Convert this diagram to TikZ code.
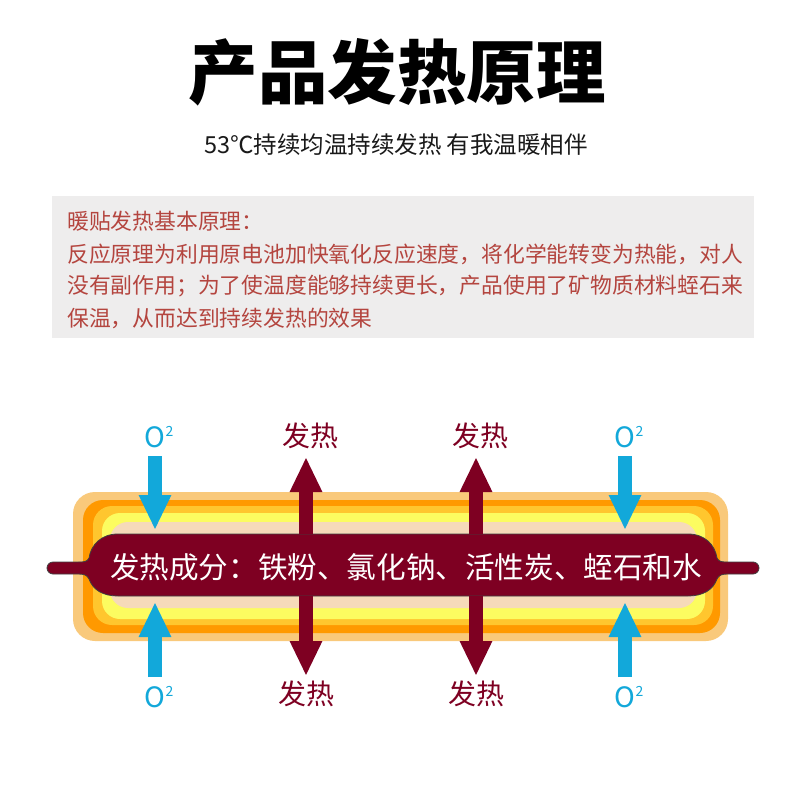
\documentclass[tikz,border=0pt]{standalone}
\usepackage{fontspec}
\setmainfont{Noto Sans CJK SC}
\usetikzlibrary{arrows.meta}
\definecolor{bandA}{HTML}{F9C97B}
\definecolor{bandB}{HTML}{FF9900}
\definecolor{bandC}{HTML}{FFC62E}
\definecolor{bandD}{HTML}{FCFC60}
\definecolor{bandE}{HTML}{F6DAB9}
\definecolor{maroon}{HTML}{7E0022}
\definecolor{oxblue}{HTML}{12A8DA}
\definecolor{greybox}{HTML}{EEEDED}
\definecolor{boxtext}{HTML}{B4453F}
\newcommand{\oxtwo}{O\raisebox{0.42em}{\fontsize{14}{14}\selectfont 2}}
\tikzset{
  band/.style={rounded corners=#1},
  txtline/.style={anchor=west, inner sep=0pt, text=boxtext, font=\fontsize{21.8}{24}\selectfont},
  heatlabel/.style={inner sep=0pt, text=maroon, font=\fontsize{28}{30}\selectfont},
  oxlabel/.style={inner sep=0pt, text=oxblue, font=\fontsize{28}{30}\selectfont},
  oxarrow/.style={draw=oxblue, line width=14pt, -{Triangle[length=35pt,width=30pt]}},
  heatarrow/.style={draw=maroon, line width=14pt, -{Triangle[length=35pt,width=30pt]}},
}
\begin{document}
\begin{tikzpicture}[x=1pt,y=-1pt]
\useasboundingbox[fill=white] (0,0) rectangle (800,800);

% title
\node[inner sep=0pt, text=black, font=\fontsize{69.5}{74}\selectfont\bfseries] (title) at (397,72) {产品发热原理};
\node[inner sep=0pt, text=black!90, font=\fontsize{23.5}{26}\selectfont] (subtitle) at (396,145) {53℃持续均温持续发热 有我温暖相伴};

% grey text box
\fill[greybox] (52,196) rectangle (754,338);
\node[txtline] (l1) at (67,221) {暖贴发热基本原理：};
\node[txtline] (l2) at (67,254) {反应原理为利用原电池加快氧化反应速度，将化学能转变为热能，对人};
\node[txtline] (l3) at (67,286) {没有副作用；为了使温度能够持续更长，产品使用了矿物质材料蛭石来};
\node[txtline] (l4) at (67,318) {保温，从而达到持续发热的效果};

% heat bands
\fill[bandA, band=22] (73,492) rectangle (728,641);
\fill[bandB, band=20] (83,500) rectangle (720,633);
\fill[bandC, band=19] (93,506) rectangle (713,625);
\fill[bandD, band=18] (102,513) rectangle (705,619);
\fill[bandE, band=18] (110,522) rectangle (697,608);

% central bar
\draw[fill=maroon, draw=black!75, line width=0.8pt]
  (118,534) -- (688,534)
  .. controls (705,534) and (715,545) .. (717,558)
  .. controls (719,562) and (722,562) .. (728,562)
  -- (753,562) arc[start angle=-90, end angle=90, radius=6]
  -- (728,574)
  .. controls (722,574) and (719,575) .. (717,579)
  .. controls (713,590) and (703,596) .. (688,596)
  -- (118,596)
  .. controls (103,596) and (93,590) .. (89,579)
  .. controls (87,575) and (84,574) .. (78,574)
  -- (53,574) arc[start angle=90, end angle=270, radius=6]
  -- (78,562)
  .. controls (84,562) and (87,562) .. (89,558)
  .. controls (91,545) and (101,534) .. (118,534) -- cycle;
\node[inner sep=0pt, text=white, font=\fontsize{29.6}{32}\selectfont] (bar) at (406,567) {发热成分：铁粉、氯化钠、活性炭、蛭石和水};

% labels
\node[oxlabel] (ox1) at (159,437) {\oxtwo};
\node[heatlabel] (h1) at (310,436) {发热};
\node[heatlabel] (h2) at (480,436) {发热};
\node[oxlabel] (ox2) at (629,437) {\oxtwo};
\node[oxlabel] (ox3) at (159,697) {\oxtwo};
\node[heatlabel] (h3) at (306,694) {发热};
\node[heatlabel] (h4) at (476,694) {发热};
\node[oxlabel] (ox4) at (629,697) {\oxtwo};

% arrow end points
\coordinate (a1s) at (155,456); \coordinate (a1e) at (155,530);
\coordinate (a2s) at (306,534); \coordinate (a2e) at (306,457);
\coordinate (a3s) at (476,534); \coordinate (a3e) at (476,457);
\coordinate (a4s) at (625,456); \coordinate (a4e) at (625,530);
\coordinate (b1s) at (155,677); \coordinate (b1e) at (155,602);
\coordinate (b2s) at (306,596); \coordinate (b2e) at (306,676);
\coordinate (b3s) at (476,596); \coordinate (b3e) at (476,676);
\coordinate (b4s) at (625,677); \coordinate (b4e) at (625,602);

\draw[oxarrow] (a1s) -- (a1e);
\draw[heatarrow] (a2s) -- (a2e);
\draw[heatarrow] (a3s) -- (a3e);
\draw[oxarrow] (a4s) -- (a4e);
\draw[oxarrow] (b1s) -- (b1e);
\draw[heatarrow] (b2s) -- (b2e);
\draw[heatarrow] (b3s) -- (b3e);
\draw[oxarrow] (b4s) -- (b4e);
\end{tikzpicture}
\end{document}
